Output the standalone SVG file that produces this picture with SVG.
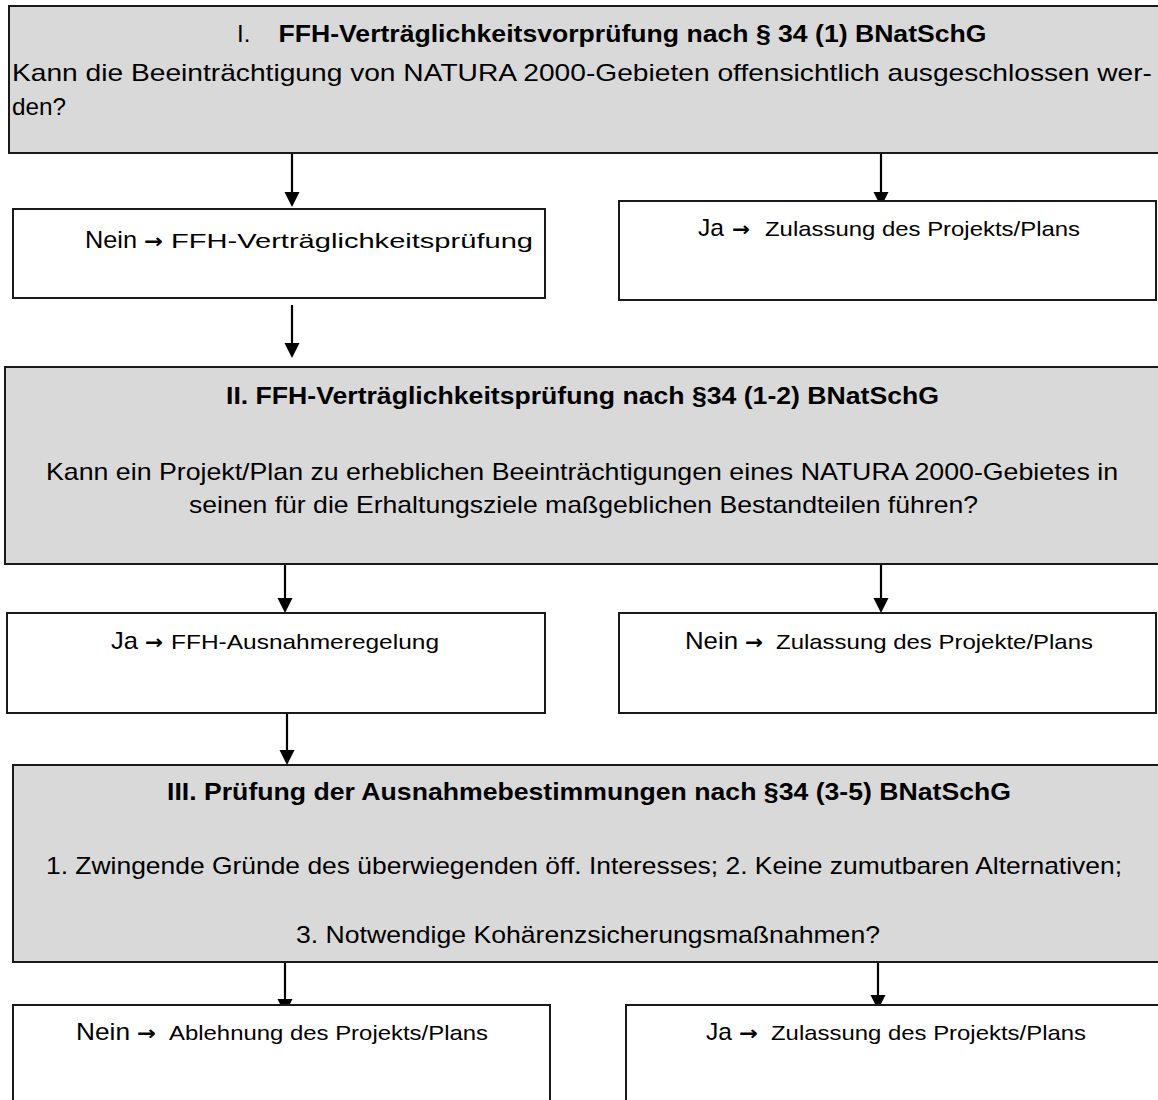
<svg xmlns="http://www.w3.org/2000/svg" width="1158" height="1100" viewBox="0 0 1158 1100">
<defs>
<style>
.box{stroke:#1a1a1a;stroke-width:2}
.gray{fill:#d9d9d9}
.white{fill:#ffffff}
text{font-family:"Liberation Sans",Arial,sans-serif;fill:#000;font-size:24px}
.b{font-weight:bold}
.big{font-size:24px}
.sm{font-size:21px}
.ar{font-family:"DejaVu Sans",sans-serif;font-size:20px;font-weight:bold}
.conn line{stroke:#000;stroke-width:2.2;marker-end:url(#ah)}
</style>
<marker id="ah" markerUnits="userSpaceOnUse" markerWidth="16" markerHeight="16" refX="12" refY="7.5" orient="auto">
<path d="M0,0 L15,7.5 L0,15 z" fill="#000"/>
</marker>
</defs>
<rect width="1158" height="1100" fill="#fff"/>

<g id="connectors" class="conn">
<line x1="292" y1="153" x2="292" y2="204"/>
<line x1="881" y1="153" x2="881" y2="204"/>
<line x1="292" y1="305" x2="292" y2="355"/>
<line x1="285" y1="564" x2="285" y2="610"/>
<line x1="881" y1="564" x2="881" y2="610"/>
<line x1="287" y1="713" x2="287" y2="762"/>
<line x1="285" y1="962" x2="285" y2="1011"/>
<line x1="878" y1="958" x2="878" y2="1007"/>
</g>

<g id="n1">
<rect class="box gray" x="9" y="6" width="1160" height="147"/>
<text x="237" y="42">I.</text>
<text class="b" x="278.5" y="42" textLength="708" lengthAdjust="spacingAndGlyphs">FFH-Verträglichkeitsvorprüfung nach § 34 (1) BNatSchG</text>
<text x="12" y="81" textLength="1140" lengthAdjust="spacingAndGlyphs">Kann die Beeinträchtigung von NATURA 2000-Gebieten offensichtlich ausgeschlossen wer-</text>
<text x="12" y="115" textLength="54" lengthAdjust="spacingAndGlyphs">den?</text>
</g>

<g id="n2">
<rect class="box white" x="13" y="209" width="532" height="89"/>
<text class="big" x="85" y="248" textLength="52" lengthAdjust="spacingAndGlyphs">Nein</text>
<text class="ar" x="144" y="248" textLength="19" lengthAdjust="spacingAndGlyphs">→</text>
<text class="sm" x="171" y="248" textLength="362" lengthAdjust="spacingAndGlyphs">FFH-Verträglichkeitsprüfung</text>
</g>

<g id="n3">
<rect class="box white" x="619" y="201" width="537" height="99"/>
<text class="big" x="698" y="236" textLength="26" lengthAdjust="spacingAndGlyphs">Ja</text>
<text class="ar" x="732" y="236" textLength="18" lengthAdjust="spacingAndGlyphs">→</text>
<text class="sm" x="765" y="236" textLength="315" lengthAdjust="spacingAndGlyphs">Zulassung des Projekts/Plans</text>
</g>

<g id="n4">
<rect class="box gray" x="5" y="367" width="1160" height="197"/>
<text class="b" x="226" y="404" textLength="713" lengthAdjust="spacingAndGlyphs">II. FFH-Verträglichkeitsprüfung nach §34 (1-2) BNatSchG</text>
<text x="46" y="480" textLength="1072" lengthAdjust="spacingAndGlyphs">Kann ein Projekt/Plan zu erheblichen Beeinträchtigungen eines NATURA 2000-Gebietes in</text>
<text x="189" y="513" textLength="789" lengthAdjust="spacingAndGlyphs">seinen für die Erhaltungsziele maßgeblichen Bestandteilen führen?</text>
</g>

<g id="n5">
<rect class="box white" x="7" y="613" width="538" height="100"/>
<text class="big" x="111" y="649" textLength="27" lengthAdjust="spacingAndGlyphs">Ja</text>
<text class="ar" x="145" y="649" textLength="18" lengthAdjust="spacingAndGlyphs">→</text>
<text class="sm" x="171" y="649" textLength="268" lengthAdjust="spacingAndGlyphs">FFH-Ausnahmeregelung</text>
</g>

<g id="n6">
<rect class="box white" x="619" y="613" width="537" height="100"/>
<text class="big" x="685" y="649" textLength="53" lengthAdjust="spacingAndGlyphs">Nein</text>
<text class="ar" x="745" y="649" textLength="18" lengthAdjust="spacingAndGlyphs">→</text>
<text class="sm" x="776" y="649" textLength="317" lengthAdjust="spacingAndGlyphs">Zulassung des Projekte/Plans</text>
</g>

<g id="n7">
<rect class="box gray" x="13" y="765" width="1160" height="197"/>
<text class="b" x="167" y="800" textLength="844" lengthAdjust="spacingAndGlyphs">III. Prüfung der Ausnahmebestimmungen nach §34 (3-5) BNatSchG</text>
<text x="46" y="874" textLength="1076" lengthAdjust="spacingAndGlyphs">1. Zwingende Gründe des überwiegenden öff. Interesses; 2. Keine zumutbaren Alternativen;</text>
<text x="296" y="943" textLength="584" lengthAdjust="spacingAndGlyphs">3. Notwendige Kohärenzsicherungsmaßnahmen?</text>
</g>

<g id="n8">
<rect class="box white" x="13" y="1005" width="537" height="120"/>
<text class="big" x="76" y="1040" textLength="54" lengthAdjust="spacingAndGlyphs">Nein</text>
<text class="ar" x="137" y="1040" textLength="19" lengthAdjust="spacingAndGlyphs">→</text>
<text class="sm" x="169" y="1040" textLength="319" lengthAdjust="spacingAndGlyphs">Ablehnung des Projekts/Plans</text>
</g>

<g id="n9">
<rect class="box white" x="626" y="1005" width="560" height="120"/>
<text class="big" x="706" y="1040" textLength="26" lengthAdjust="spacingAndGlyphs">Ja</text>
<text class="ar" x="739" y="1040" textLength="19" lengthAdjust="spacingAndGlyphs">→</text>
<text class="sm" x="771" y="1040" textLength="315" lengthAdjust="spacingAndGlyphs">Zulassung des Projekts/Plans</text>
</g>
</svg>
